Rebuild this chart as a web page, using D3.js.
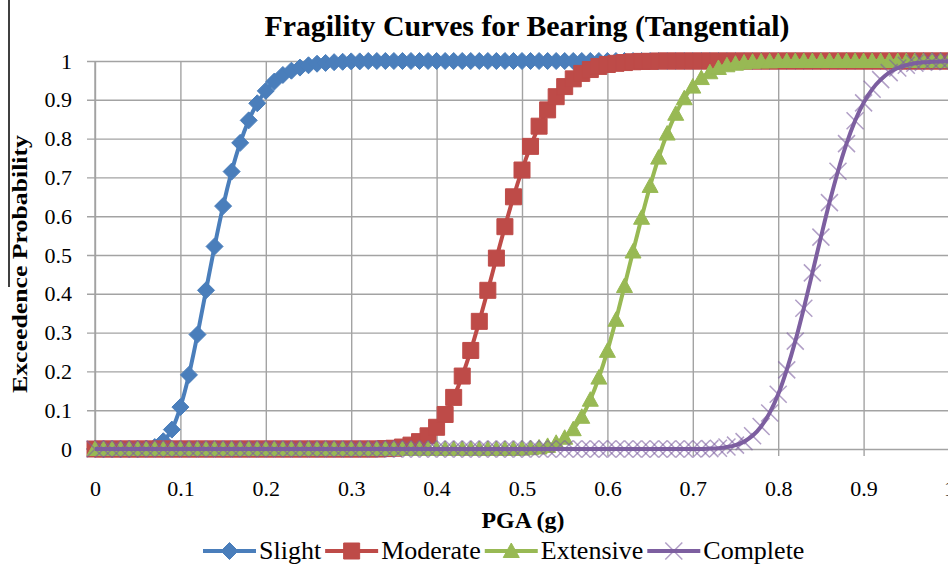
<!DOCTYPE html>
<html>
<head>
<meta charset="utf-8">
<script src="https://cdn.jsdelivr.net/npm/d3@7/dist/d3.min.js"></script>
<style>
  body { margin: 0; background: #fff; }
  text { font-family: "Liberation Serif", "Times New Roman", serif; fill: #000; }
</style>
</head>
<body>
<div id="chart"></div>
<script>
// PGA (g) sampled every 0.01 from 0 to 1
const pga = d3.range(101).map(i => i / 100);

// Exceedence probability for each damage state
const slight = [
  0, 0, 0, 0, 0, 0, 0.001, 0.005, 0.02, 0.05,
  0.108, 0.191, 0.295, 0.409, 0.522, 0.626, 0.715, 0.789, 0.847, 0.891,
  0.923, 0.947, 0.964, 0.975, 0.983, 0.989, 0.993, 0.995, 0.997, 0.998,
  0.999, 0.999, 1, 1, 1, 1, 1, 1, 1, 1,
  1, 1, 1, 1, 1, 1, 1, 1, 1, 1,
  1, 1, 1, 1, 1, 1, 1, 1, 1, 1,
  1, 1, 1, 1, 1, 1, 1, 1, 1, 1,
  1, 1, 1, 1, 1, 1, 1, 1, 1, 1,
  1, 1, 1, 1, 1, 1, 1, 1, 1, 1,
  1, 1, 1, 1, 1, 1, 1, 1, 1, 1,
  1
];
const moderate = [
  0, 0, 0, 0, 0, 0, 0, 0, 0, 0,
  0, 0, 0, 0, 0, 0, 0, 0, 0, 0,
  0, 0, 0, 0, 0, 0, 0, 0, 0, 0,
  0, 0, 0, 0, 0.001, 0.002, 0.005, 0.01, 0.019, 0.034,
  0.056, 0.089, 0.133, 0.188, 0.254, 0.329, 0.409, 0.492, 0.573, 0.65,
  0.719, 0.78, 0.832, 0.874, 0.908, 0.934, 0.954, 0.968, 0.978, 0.986,
  0.991, 0.994, 0.996, 0.998, 0.999, 0.999, 1, 1, 1, 1,
  1, 1, 1, 1, 1, 1, 1, 1, 1, 1,
  1, 1, 1, 1, 1, 1, 1, 1, 1, 1,
  1, 1, 1, 1, 1, 1, 1, 1, 1, 1,
  1
];
const extensive = [
  0, 0, 0, 0, 0, 0, 0, 0, 0, 0,
  0, 0, 0, 0, 0, 0, 0, 0, 0, 0,
  0, 0, 0, 0, 0, 0, 0, 0, 0, 0,
  0, 0, 0, 0, 0, 0, 0, 0, 0, 0,
  0, 0, 0, 0, 0, 0, 0, 0, 0, 0,
  0.001, 0.002, 0.004, 0.008, 0.016, 0.029, 0.051, 0.083, 0.127, 0.184,
  0.253, 0.333, 0.42, 0.509, 0.596, 0.678, 0.751, 0.813, 0.864, 0.904,
  0.934, 0.956, 0.971, 0.982, 0.989, 0.993, 0.996, 0.998, 0.999, 0.999,
  1, 1, 1, 1, 1, 1, 1, 1, 1, 1,
  1, 1, 1, 1, 1, 1, 1, 1, 1, 1,
  1
];
const complete = [
  0, 0, 0, 0, 0, 0, 0, 0, 0, 0,
  0, 0, 0, 0, 0, 0, 0, 0, 0, 0,
  0, 0, 0, 0, 0, 0, 0, 0, 0, 0,
  0, 0, 0, 0, 0, 0, 0, 0, 0, 0,
  0, 0, 0, 0, 0, 0, 0, 0, 0, 0,
  0, 0, 0, 0, 0, 0, 0, 0, 0, 0,
  0, 0, 0, 0, 0, 0, 0, 0, 0, 0,
  0, 0, 0.001, 0.002, 0.005, 0.01, 0.019, 0.034, 0.058, 0.093,
  0.141, 0.204, 0.278, 0.363, 0.454, 0.546, 0.635, 0.716, 0.787, 0.846,
  0.892, 0.927, 0.952, 0.97, 0.982, 0.989, 0.994, 0.997, 0.998, 0.999,
  0.9995
];

const seriesNames = ["Slight", "Moderate", "Extensive", "Complete"];
const seriesValues = [slight, moderate, extensive, complete];

// Axis ticks
const xTicks = [0, 0.1, 0.2, 0.3, 0.4, 0.5, 0.6, 0.7, 0.8, 0.9, 1];
const yTicks = [0, 0.1, 0.2, 0.3, 0.4, 0.5, 0.6, 0.7, 0.8, 0.9, 1];
const tickLabels = ["0", "0.1", "0.2", "0.3", "0.4", "0.5", "0.6", "0.7", "0.8", "0.9", "1"];

// Look of each series (Excel 2007 palette)
const look = {
  Slight:    { color: "#4a7ebb", marker: "diamond" },
  Moderate:  { color: "#be4b48", marker: "square" },
  Extensive: { color: "#98b954", marker: "triangle" },
  Complete:  { color: "#7d5fa0", marker: "cross" }
};
const markerPath = {
  diamond: "M0,-8.5L8.5,0L0,8.5L-8.5,0Z",
  square: "M-8,-8H8V8H-8Z",
  triangle: "M0,-8L8,6.5L-8,6.5Z",
  cross: "M-8.5,-8.5L8.5,8.5M-8.5,8.5L8.5,-8.5"
};

const width = 948, height = 565;
const plotLeft = 95, plotRight = 949, plotTop = 61, plotBottom = 449;

const svg = d3.select("#chart").append("svg")
  .attr("width", width)
  .attr("height", height);

svg.append("rect").attr("width", width).attr("height", height).attr("fill", "#fff");

// stray border line on the left edge of the original figure
svg.append("line")
  .attr("x1", 9).attr("x2", 9).attr("y1", 0).attr("y2", 287)
  .attr("stroke", "#000").attr("stroke-width", 1.5);

const x = d3.scaleLinear().domain([0, 1]).range([plotLeft, plotRight]);
const y = d3.scaleLinear().domain([0, 1]).range([plotBottom, plotTop]);

// y gridlines + labels
const yAxis = svg.append("g")
  .attr("transform", "translate(" + (plotLeft - 8) + ",0)")
  .call(d3.axisLeft(y)
    .tickValues(yTicks)
    .tickFormat((d, i) => tickLabels[i])
    .tickSize(-(plotRight - plotLeft + 8))
    .tickPadding(15));

// x gridlines + labels
const xAxis = svg.append("g")
  .attr("transform", "translate(0," + (plotBottom + 7) + ")")
  .call(d3.axisBottom(x)
    .tickValues(xTicks)
    .tickFormat((d, i) => tickLabels[i])
    .tickSize(-(plotBottom - plotTop + 7))
    .tickPadding(24));

[yAxis, xAxis].forEach(g => {
  g.select(".domain").remove();
  g.selectAll(".tick line").attr("stroke", "#a3a3a3").attr("stroke-width", 1.4);
  g.selectAll(".tick text")
    .style("font-family", "'Liberation Serif', serif")
    .style("font-size", "22px")
    .attr("fill", "#000");
});

// vertical axis line
svg.append("line")
  .attr("x1", plotLeft).attr("x2", plotLeft).attr("y1", plotTop).attr("y2", plotBottom)
  .attr("stroke", "#a3a3a3").attr("stroke-width", 1.4);

// curves, drawn series by series (line then its markers)
const line = d3.line()
  .x((d, i) => x(pga[i]))
  .y(d => y(d))
  .curve(d3.curveMonotoneX);

function drawMarker(sel, s) {
  sel.attr("d", markerPath[s.marker])
    .attr("fill", s.marker === "cross" ? "none" : s.color)
    .attr("stroke", s.color)
    .attr("stroke-opacity", s.marker === "cross" ? 0.6 : 1)
    .attr("stroke-width", s.marker === "cross" ? 1.5 : 1);
}

seriesNames.forEach((name, k) => {
  const s = look[name];
  const g = svg.append("g").attr("class", "series");
  g.append("path")
    .datum(seriesValues[k])
    .attr("d", line)
    .attr("fill", "none")
    .attr("stroke", s.color)
    .attr("stroke-width", 4);

  g.selectAll(".marker")
    .data(seriesValues[k])
    .enter()
    .append("path")
    .attr("class", "marker")
    .attr("transform", (d, i) => "translate(" + x(pga[i]) + "," + y(d) + ")")
    .call(drawMarker, s);
});

// Title
svg.append("text")
  .attr("x", 527).attr("y", 36)
  .attr("text-anchor", "middle")
  .attr("textLength", 525)
  .attr("lengthAdjust", "spacingAndGlyphs")
  .style("font-size", "30px")
  .style("font-weight", "bold")
  .text("Fragility Curves for Bearing (Tangential)");

// Axis titles
svg.append("text")
  .attr("transform", "translate(27,264) rotate(-90)")
  .attr("text-anchor", "middle")
  .attr("textLength", 258)
  .attr("lengthAdjust", "spacingAndGlyphs")
  .style("font-size", "22px")
  .style("font-weight", "bold")
  .text("Exceedence Probability");

svg.append("text")
  .attr("x", 523).attr("y", 528)
  .attr("text-anchor", "middle")
  .attr("textLength", 83)
  .attr("lengthAdjust", "spacingAndGlyphs")
  .style("font-size", "23px")
  .style("font-weight", "bold")
  .text("PGA (g)");

// Legend
const legend = svg.append("g").attr("class", "legend");
let lx = 203;
const ly = 551;
seriesNames.forEach(name => {
  const s = look[name];
  legend.append("line")
    .attr("x1", lx).attr("x2", lx + 53)
    .attr("y1", ly).attr("y2", ly)
    .attr("stroke", s.color).attr("stroke-width", 4);
  legend.append("path")
    .attr("transform", "translate(" + (lx + 26.5) + "," + ly + ")")
    .call(drawMarker, s);
  const t = legend.append("text")
    .attr("x", lx + 56).attr("y", ly + 8)
    .style("font-size", "26px")
    .text(name);
  lx += 56 + t.node().getComputedTextLength() + 4;
});
</script>
</body>
</html>
